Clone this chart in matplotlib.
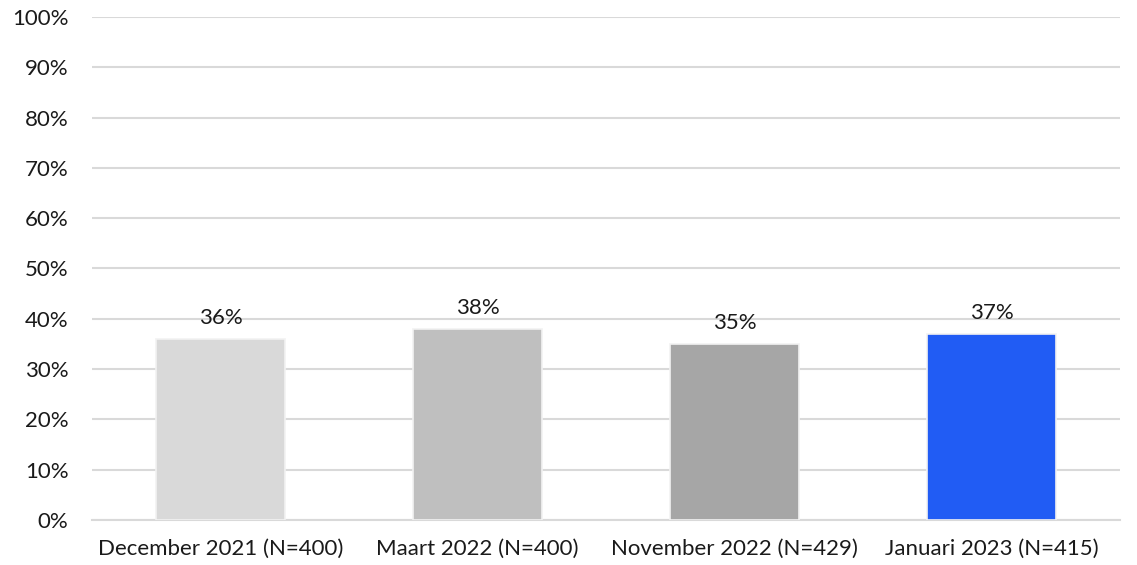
import matplotlib.pyplot as plt
from matplotlib.ticker import FuncFormatter

periods = ["December 2021 (N=400)", "Maart 2022 (N=400)",
           "November 2022 (N=429)", "Januari 2023 (N=415)"]
shares = [36, 38, 35, 37]
bar_colors = ["#d9d9d9", "#bfbfbf", "#a6a6a6", "#215cf4"]

plt.rcParams['font.family'] = ['Lato', 'DejaVu Sans']

fig, ax = plt.subplots(figsize=(11.37, 5.65), dpi=100)
fig.subplots_adjust(left=0.081, right=0.985, top=0.97, bottom=0.08)

bars = ax.bar(periods, shares, width=0.5, color=bar_colors,
              edgecolor="#f2f2f2", linewidth=1.2, zorder=3)

for rect, val in zip(bars, shares):
    ax.annotate(f"{val}%", (rect.get_x() + rect.get_width() / 2, val),
                xytext=(0, 8), textcoords="offset points",
                ha="center", va="bottom", fontsize=16, color="#1a1a1a")

ax.set_ylim(0, 100)
ax.set_yticks(range(0, 101, 10))
ax.yaxis.set_major_formatter(FuncFormatter(lambda v, p: f"{v:.0f}%"))
ax.set_xlim(-0.5, 3.5)

ax.yaxis.grid(True, color="#d9d9d9", linewidth=1.5, zorder=0)
ax.xaxis.grid(False)
for side in ["top", "right", "left"]:
    ax.spines[side].set_visible(False)
ax.spines["bottom"].set_color("#d9d9d9")
ax.spines["bottom"].set_linewidth(1.5)

ax.tick_params(axis="both", length=0, labelsize=16, labelcolor="#1a1a1a")
ax.tick_params(axis="y", pad=17)
ax.tick_params(axis="x", pad=14)

plt.savefig("out.png", dpi=100)
